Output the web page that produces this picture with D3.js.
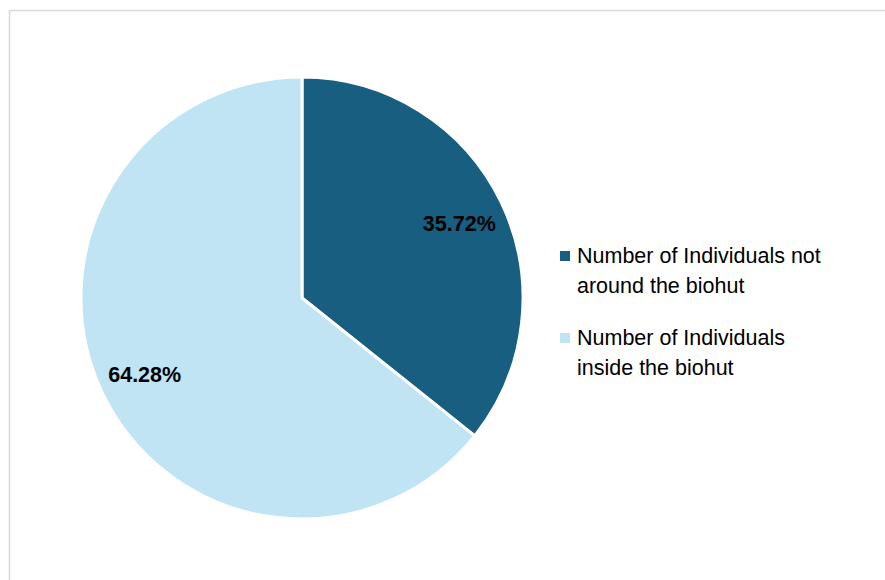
<!DOCTYPE html>
<html>
<head>
<meta charset="utf-8">
<script src="https://cdn.jsdelivr.net/npm/d3@7"></script>
<style>
  html, body { margin: 0; padding: 0; background: #ffffff; }
  svg { display: block; }
</style>
</head>
<body>
<svg id="chart" width="885" height="580"></svg>
<script>
// Share of individuals observed relative to the biohut
const categories = [
  ["Number of Individuals not", "around the biohut"],
  ["Number of Individuals", "inside the biohut"]
];
const values = [35.72, 64.28];
const labels = ["35.72%", "64.28%"];
const colors = ["#175E80", "#C1E4F5"];

const svg = d3.select("#chart");
const W = 885, H = 580;

// chart area frame
svg.append("rect")
  .attr("x", 9.5).attr("y", 10.5)
  .attr("width", W + 20).attr("height", H + 20)
  .attr("fill", "#ffffff")
  .attr("stroke", "#d9d9d9")
  .attr("stroke-width", 1.5);

const cx = 302, cy = 298, r = 221;
const g = svg.append("g").attr("transform", `translate(${cx},${cy})`);

const data = values.map((v, i) => ({ value: v, label: labels[i], color: colors[i] }));
const pie = d3.pie().value(d => d.value).sort(null);
const arc = d3.arc().innerRadius(0).outerRadius(r);
const labelArc = d3.arc().innerRadius(r * 0.79).outerRadius(r * 0.79);

const arcs = pie(data);

g.selectAll("path.slice")
  .data(arcs)
  .join("path")
  .attr("class", "slice")
  .attr("d", arc)
  .attr("fill", d => d.data.color)
  .attr("stroke", "#ffffff")
  .attr("stroke-width", 3)
  .attr("stroke-linejoin", "round");

g.selectAll("text.pct")
  .data(arcs)
  .join("text")
  .attr("class", "pct")
  .attr("transform", d => `translate(${labelArc.centroid(d)})`)
  .attr("text-anchor", "middle")
  .attr("dy", "0.4em")
  .attr("font-family", "'Liberation Sans', Arial, sans-serif")
  .attr("font-weight", "bold")
  .attr("font-size", 21.5)
  .attr("fill", "#000000")
  .text(d => d.data.label);

// legend
const legend = svg.append("g").attr("transform", "translate(560,0)");
const legendY = [263, 345];
categories.forEach((lines, i) => {
  const item = legend.append("g").attr("transform", `translate(0,${legendY[i]})`);
  item.append("rect")
    .attr("x", 0).attr("y", -12)
    .attr("width", 10).attr("height", 10)
    .attr("fill", colors[i]);
  const t = item.append("text")
    .attr("x", 17).attr("y", 0)
    .attr("font-family", "'Liberation Sans', Arial, sans-serif")
    .attr("font-size", 21.5)
    .attr("fill", "#000000");
  lines.forEach((ln, j) => {
    t.append("tspan").attr("x", 17).attr("dy", j === 0 ? 0 : 30).text(ln);
  });
});
</script>
</body>
</html>
